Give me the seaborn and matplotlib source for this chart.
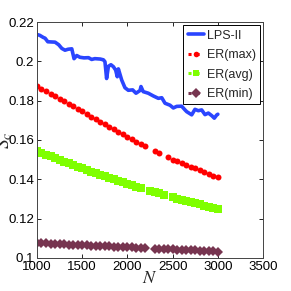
import numpy as np
import matplotlib
matplotlib.use('Agg')
import matplotlib.pyplot as plt
from matplotlib.lines import Line2D
import seaborn as sns

# LPS-II curve
lps_n = [1000, 1030, 1070, 1090, 1120, 1200, 1240, 1275, 1310, 1345, 1385, 1410,
         1440, 1475, 1520, 1570, 1605, 1640, 1700, 1735, 1752, 1770, 1790, 1818,
         1845, 1870, 1888, 1900, 1937, 1973, 2010, 2058, 2095, 2140, 2150, 2175,
         2231, 2287, 2342, 2380, 2416, 2471, 2508, 2545, 2600, 2637, 2656, 2711,
         2747, 2784, 2821, 2858, 2895, 2932, 2961, 2987, 3000]
lps_sc = [0.2137, 0.2133, 0.2122, 0.2118, 0.2100, 0.2098, 0.2085, 0.2066, 0.2057,
          0.2062, 0.2064, 0.2014, 0.2030, 0.2021, 0.2018, 0.2019, 0.2010, 0.2014,
          0.2012, 0.2008, 0.1998, 0.1913, 0.1975, 0.1983, 0.1973, 0.1956, 0.1922,
          0.1962, 0.1905, 0.1866, 0.1853, 0.1855, 0.1838, 0.1852, 0.1872, 0.1846,
          0.1838, 0.1824, 0.1812, 0.1815, 0.1787, 0.1777, 0.1763, 0.1771, 0.1772,
          0.1753, 0.1744, 0.1728, 0.1756, 0.1749, 0.1753, 0.1729, 0.1737, 0.1724,
          0.1711, 0.1727, 0.1731]

# ER curves
er_n = [1000, 1050, 1100, 1150, 1200, 1250, 1300, 1350, 1400, 1450, 1500, 1550,
        1600, 1650, 1700, 1750, 1800, 1850, 1900, 1950, 2000, 2050, 2100, 2150,
        2200, 2250, 2300, 2350, 2400, 2450, 2500, 2550, 2600, 2650, 2700, 2750,
        2800, 2850, 2900, 2950, 3000]
er_max = [0.1875, 0.1862, 0.1849, 0.1836, 0.1823, 0.1810, 0.1797, 0.1784, 0.1771,
          0.1758, 0.1745, 0.1732, 0.1719, 0.1706, 0.1693, 0.1680, 0.1667, 0.1654,
          0.1641, 0.1628, 0.1615, 0.1603, 0.1591, 0.1579, 0.1567, np.nan, 0.1545,
          0.1534, np.nan, 0.1512, 0.1500, 0.1491, 0.1482, 0.1473, 0.1464, 0.1455,
          0.1446, 0.1437, 0.1428, 0.1419, 0.1410]
er_avg = [0.1543, 0.1534, 0.1525, 0.1517, 0.1508, 0.1499, 0.1490, 0.1481, 0.1473,
          0.1464, 0.1455, 0.1447, 0.1439, 0.1431, 0.1423, 0.1415, 0.1407, 0.1400,
          0.1392, 0.1385, 0.1378, 0.1370, 0.1363, 0.1356, np.nan, 0.1342, 0.1335,
          0.1328, 0.1321, np.nan, 0.1308, 0.1302, 0.1296, 0.1290, 0.1284, 0.1278,
          0.1272, 0.1266, 0.1260, 0.1254, 0.1248]
er_min = [0.1076, 0.1075, 0.1073, 0.1072, 0.1071, 0.1070, 0.1069, 0.1067, 0.1066,
          0.1065, 0.1064, 0.1063, 0.1062, 0.1061, 0.1060, 0.1059, 0.1058, 0.1057,
          0.1056, 0.1055, 0.1054, 0.1053, 0.1052, 0.1051, 0.1050, np.nan, 0.1047,
          0.1046, 0.1045, 0.1044, 0.1043, 0.1042, 0.1041, 0.1040, 0.1039, 0.1038,
          0.1037, 0.1036, 0.1034, 0.1033, 0.1031]

x_ticks = [1000, 1500, 2000, 2500, 3000, 3500]
y_ticks = [0.1, 0.12, 0.14, 0.16, 0.18, 0.2, 0.22]
y_ticklabels = ['0.1', '0.12', '0.14', '0.16', '0.18', '0.2', '0.22']

sns.set_style('ticks')
plt.rcParams['font.family'] = ['Liberation Sans', 'DejaVu Sans']
plt.rcParams['mathtext.fontset'] = 'stix'

fig = plt.figure(figsize=(2.91, 2.91), dpi=100)
ax = fig.add_axes([0.127, 0.114, 0.777, 0.810])

c_lps = '#2a45ff'
c_max = '#ff0000'
c_avg = '#7fff00'
c_min = '#773550'

sns.lineplot(x=lps_n, y=lps_sc, ax=ax, color=c_lps, lw=2.6, estimator=None, sort=False)
sns.lineplot(x=er_n, y=er_max, ax=ax, color=c_max, linestyle='none', marker='o',
             markersize=4.3, markeredgewidth=0, estimator=None, sort=False)
sns.lineplot(x=er_n, y=er_avg, ax=ax, color=c_avg, linestyle='none', marker='s',
             markersize=5.4, markeredgewidth=0, estimator=None, sort=False)
sns.lineplot(x=er_n, y=er_min, ax=ax, color=c_min, linestyle='none', marker='D',
             markersize=5.6, markeredgewidth=0, estimator=None, sort=False)

ax.set_xlim(1000, 3500)
ax.set_ylim(0.1, 0.22)
ax.set_xticks(x_ticks)
ax.set_xticklabels([str(v) for v in x_ticks])
ax.set_yticks(y_ticks)
ax.set_yticklabels(y_ticklabels)
ax.tick_params(direction='in', length=3, width=0.6, labelsize=9.5, pad=2,
               top=True, right=True, colors='black')
for s in ax.spines.values():
    s.set_linewidth(0.7)
    s.set_color('#444444')

ax.set_xlabel('$N$', fontsize=13, labelpad=-2)
ax.set_ylabel('$S_c$', fontsize=14)
ax.yaxis.set_label_coords(-0.1, 0.5)

handles = [
    Line2D([], [], color=c_lps, lw=2.6),
    Line2D([], [], color=c_max, lw=2.2, linestyle=':', marker='o', markersize=4, markeredgewidth=0),
    Line2D([], [], color=c_avg, lw=2.2, linestyle=':', marker='s', markersize=5, markeredgewidth=0),
    Line2D([], [], color=c_min, lw=2.2, linestyle=':', marker='D', markersize=5, markeredgewidth=0),
]
labels = ['LPS-II', 'ER(max)', 'ER(avg)', 'ER(min)']
leg = ax.legend(handles, labels, loc='upper right', fontsize=9, frameon=True,
                fancybox=False, edgecolor='black', framealpha=1,
                handlelength=1.3, handletextpad=0.2, borderpad=0.35,
                labelspacing=0.6, borderaxespad=0.25)
leg.get_frame().set_linewidth(0.7)

fig.savefig('out.png', dpi=100)
